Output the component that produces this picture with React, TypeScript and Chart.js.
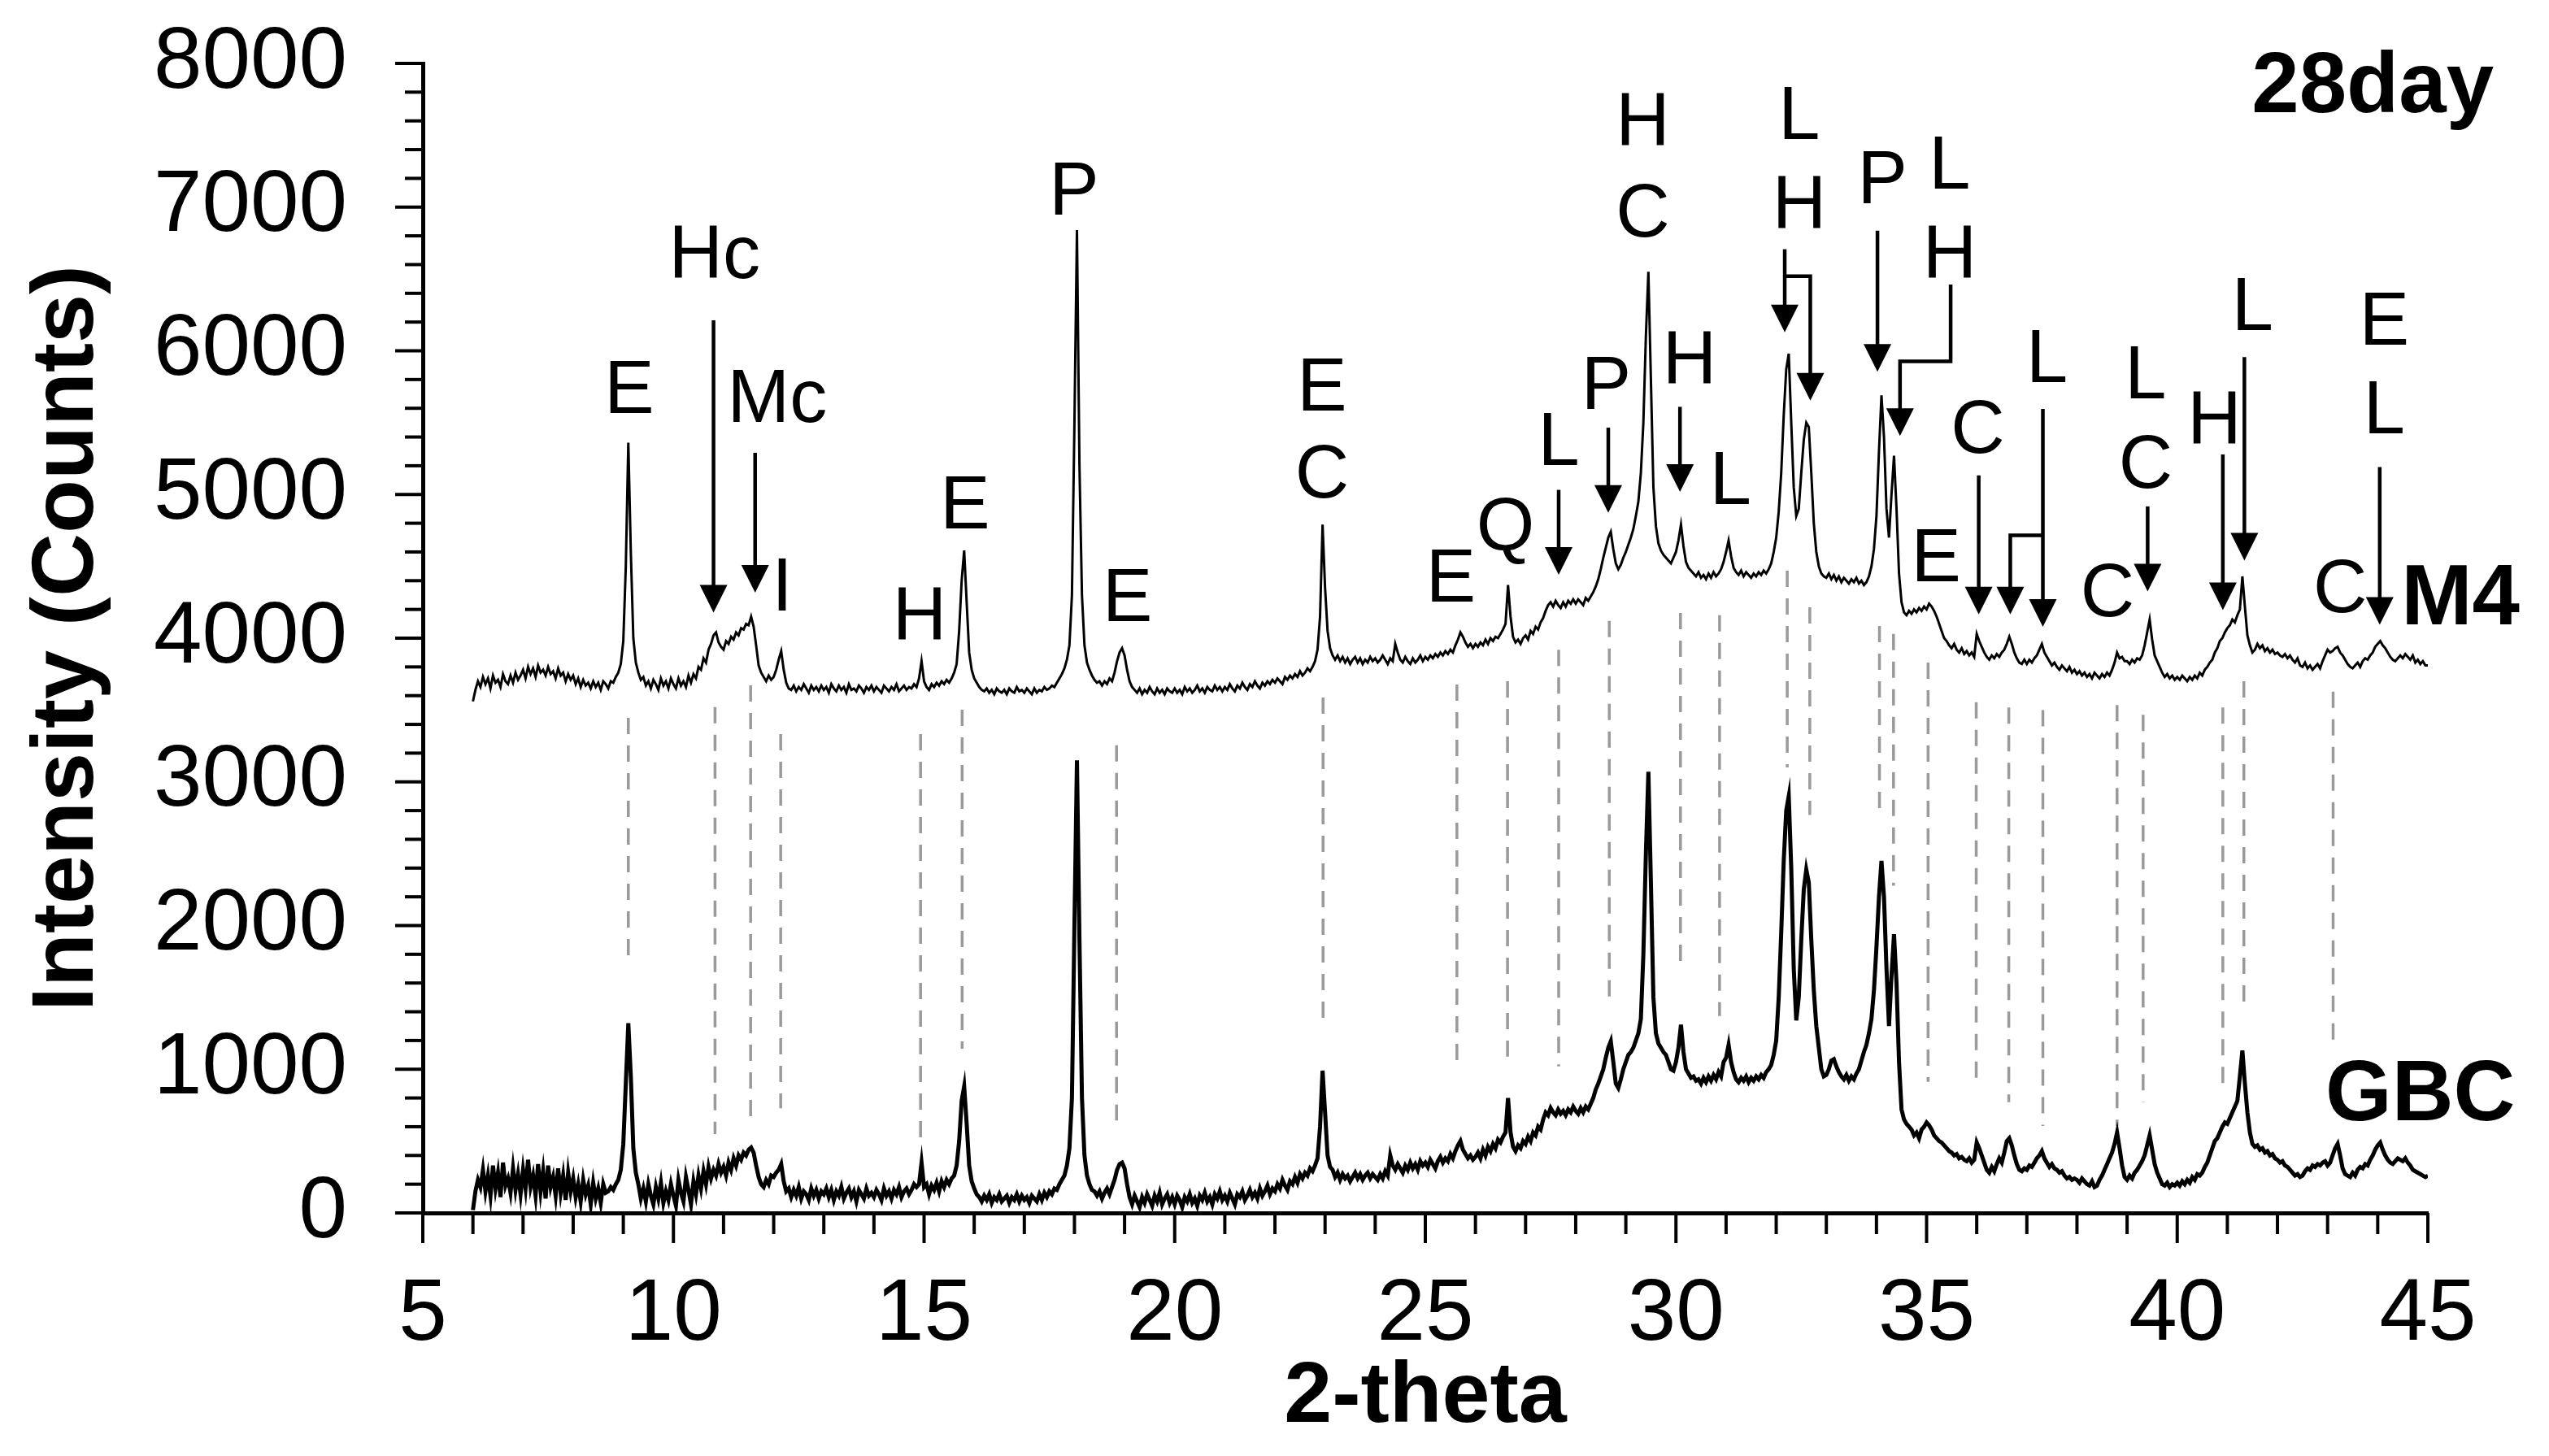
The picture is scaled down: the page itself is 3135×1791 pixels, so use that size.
import React, { useEffect, useRef } from "react";
import { Chart, registerables } from "chart.js";

Chart.register(...registerables);

const FONT = "'Liberation Sans', Arial, Helvetica, sans-serif";

// 2-theta sampling of both patterns
const twoThetaStart = 6;
const twoThetaStep = 0.05;

// M4 pattern (counts, offset trace), one row per degree: d.00 ... d.95
const m4Counts = [
  3560, 3640, 3700, 3660, 3730, 3680, 3720, 3650, 3740, 3690, 3710, 3660, 3750, 3700, 3680, 3740, 3690, 3760, 3710, 3740,
  3780, 3720, 3800, 3750, 3790, 3730, 3810, 3760, 3780, 3740, 3800, 3750, 3770, 3720, 3790, 3740, 3760, 3700, 3750, 3710,
  3740, 3680, 3720, 3660, 3710, 3670, 3690, 3650, 3700, 3660, 3690, 3640, 3700, 3680, 3650, 3700, 3690, 3730, 3760, 3820,
  3980, 4500, 5360, 4600, 4000, 3830, 3760, 3710, 3730, 3670, 3700, 3650, 3710, 3680, 3640, 3720, 3670, 3700, 3650, 3720,
  3680, 3650, 3720, 3670, 3700, 3660, 3740, 3690, 3750, 3720, 3800, 3780, 3860, 3830, 3920, 3960, 4020, 4040, 3970, 3940,
  3920, 3980, 3960, 4010, 3990, 4040, 4020, 4070, 4060, 4100, 4090, 4150, 4080, 3950, 3810, 3760, 3730, 3700, 3740, 3710,
  3730, 3780, 3850, 3910, 3780, 3690, 3650, 3640, 3670, 3630, 3660, 3640, 3680, 3650, 3620, 3670, 3640, 3660, 3630, 3670,
  3640, 3660, 3620, 3680, 3650, 3630, 3670, 3640, 3660, 3620, 3680, 3640, 3650, 3630, 3670, 3650, 3620, 3660, 3640, 3670,
  3630, 3660, 3640, 3620, 3670, 3650, 3630, 3660, 3640, 3680, 3630, 3650, 3670, 3640, 3660, 3650, 3680, 3660, 3720, 3840,
  3700, 3660, 3640, 3680, 3660, 3690, 3670, 3700, 3680, 3710, 3690, 3720, 3760, 3820, 4050, 4400, 4610, 4250, 3900, 3780,
  3720, 3690, 3660, 3640, 3630, 3650, 3620, 3640, 3610, 3650, 3630, 3620, 3640, 3610, 3650, 3630, 3620, 3660, 3630, 3640,
  3620, 3650, 3630, 3610, 3650, 3620, 3640, 3630, 3660, 3640, 3650, 3670, 3660, 3690, 3720, 3750, 3790, 3850, 3950, 4300,
  5500, 6840, 5200, 4300, 3950, 3830, 3780, 3740, 3710, 3690, 3700, 3670, 3700, 3680, 3720, 3700, 3760, 3840, 3900, 3930,
  3880, 3780, 3700, 3660, 3640, 3620, 3650, 3610, 3640, 3620, 3660, 3630, 3610, 3650, 3620, 3640, 3610, 3650, 3630, 3620,
  3650, 3620, 3640, 3610, 3660, 3630, 3650, 3620, 3640, 3670, 3630, 3650, 3620, 3660, 3640, 3630, 3670, 3640, 3660, 3630,
  3660, 3640, 3680, 3650, 3630, 3670, 3650, 3690, 3660, 3640, 3680, 3660, 3700, 3670, 3650, 3690, 3670, 3700, 3680, 3710,
  3690, 3720, 3700, 3680, 3730, 3710, 3740, 3720, 3750, 3730, 3770, 3740, 3760, 3790, 3770, 3800, 3840, 3920, 4150, 4790,
  4350, 4050, 3930, 3880, 3850, 3880, 3840, 3870, 3830, 3860, 3820, 3850, 3870, 3830, 3860, 3820, 3850, 3830, 3870, 3840,
  3860, 3830, 3850, 3880, 3850, 3820, 3860, 3840, 3960, 3900, 3850, 3830, 3870, 3840, 3820, 3860, 3830, 3850, 3880, 3840,
  3870, 3850, 3880, 3860, 3890, 3870, 3900, 3880, 3910, 3890, 3920, 3900, 3950, 3990, 4040, 4010, 3970, 3940, 3960, 3930,
  3960, 3940, 3970, 3950, 3990, 3960, 4000, 3980, 4010, 4000, 4030, 4060, 4100, 4370, 4150, 4010, 3970, 3990, 3960, 4000,
  4020, 3990, 4050, 4030, 4080, 4060, 4110, 4140, 4190, 4230, 4250, 4220, 4260, 4230, 4210, 4250, 4220, 4260, 4240, 4270,
  4240, 4270, 4250, 4230, 4280, 4260, 4290, 4320, 4360, 4410, 4480, 4560, 4630, 4700, 4740, 4620, 4520, 4480, 4510, 4560,
  4600, 4650, 4700, 4760, 4850, 4950, 5150, 5500, 6100, 6550, 5800, 5050, 4780, 4660, 4610, 4580, 4560, 4540, 4520, 4560,
  4600, 4680, 4790, 4640, 4530, 4490, 4470, 4450, 4430, 4460, 4420, 4440, 4410, 4450, 4420, 4460, 4430, 4450, 4480, 4530,
  4600, 4680, 4570, 4490, 4460, 4440, 4470, 4430, 4460, 4440, 4420, 4450, 4430, 4460, 4440, 4470, 4450, 4480, 4520, 4600,
  4700, 4880, 5150, 5550, 5870, 5980, 5500, 5050, 4850, 4900, 5150, 5380, 5500, 5470, 5150, 4800, 4600, 4500, 4450, 4430,
  4420, 4450, 4410, 4440, 4400, 4430, 4390, 4420, 4400, 4380, 4410, 4390, 4420, 4380, 4400, 4370, 4390, 4430, 4500, 4620,
  4850, 5300, 5690, 5400, 4900, 4700, 5000, 5270, 4900, 4450, 4250, 4180, 4160, 4190, 4170, 4200, 4180, 4210, 4190, 4220,
  4200, 4240, 4220, 4190, 4150, 4100, 4050, 4000, 3980, 3950, 3930, 3960, 3920, 3900, 3930, 3890, 3910, 3880, 3900, 3870,
  4030, 3980, 3940, 3900, 3870, 3850, 3880, 3860, 3890, 3870, 3900, 3920, 3960, 4010, 3960, 3900, 3860, 3830, 3820, 3850,
  3820, 3850, 3830, 3860, 3880, 3920, 3960, 3900, 3870, 3840, 3810, 3830, 3800, 3780, 3810, 3790, 3770, 3800, 3760, 3780,
  3750, 3770, 3740, 3760, 3730, 3750, 3720, 3760, 3740, 3720, 3750, 3730, 3760, 3740, 3780, 3830, 3900, 3860, 3870, 3840,
  3840, 3820, 3850, 3830, 3860, 3850, 3880, 3950, 4040, 4130, 3990, 3880, 3840, 3800, 3760, 3730, 3750, 3720, 3740, 3710,
  3730, 3710, 3740, 3720, 3700, 3730, 3710, 3740, 3720, 3760, 3740, 3780, 3800, 3830, 3850, 3900, 3930, 3980, 4000, 4040,
  4070, 4090, 4130, 4110, 4160, 4200, 4430, 4220, 4020, 3950, 3900, 3920, 3960, 3930, 3950, 3910, 3930, 3900, 3920, 3890,
  3900, 3880, 3870, 3890, 3860, 3880, 3850, 3830, 3860, 3810, 3800, 3830, 3790, 3810, 3780, 3800, 3820, 3790, 3840, 3880,
  3920, 3900, 3910, 3930, 3940, 3900, 3880, 3850, 3820, 3800, 3790, 3810, 3830, 3800, 3840, 3860, 3850, 3880, 3900, 3940,
  3960, 3980, 3950, 3930, 3900, 3870, 3850, 3840, 3860, 3880, 3860, 3890, 3870, 3850, 3880, 3830, 3850, 3820, 3840, 3810,
  3810,
];

// GBC pattern (counts), one row per degree: d.00 ... d.95
const gbcCounts = [
  20, 150, 230, 180, 300, 150, 260, 120, 330, 170, 280, 110, 350, 190, 240, 140, 310, 160, 270, 130,
  300, 170, 370, 180, 260, 120, 340, 150, 290, 100, 330, 180, 250, 120, 310, 140, 260, 90, 280, 150,
  240, 110, 200, 80, 230, 130, 190, 60, 210, 100, 170, 70, 200, 140, 150, 180, 160, 200, 230, 300,
  480, 900, 1320, 950, 450, 280, 200, 100, 170, 80, 200, 120, 60, 180, 100, 210, 70, 150, 90, 200,
  120, 50, 230, 140, 80, 250, 160, 60, 220, 130, 260, 170, 290, 200, 320, 240, 300, 260, 340, 280,
  320, 260, 350, 300, 380, 330, 400, 370, 420, 400, 440, 455, 420, 330, 250, 200, 180, 230, 200, 260,
  250, 280, 300, 340, 220, 150, 170, 110, 160, 120, 180, 100, 150, 130, 90, 170, 120, 160, 100, 150,
  130, 170, 110, 160, 90, 150, 120, 180, 100, 140, 170, 110, 150, 80, 160, 130, 100, 170, 120, 140,
  110, 160, 130, 90, 170, 120, 150, 100, 160, 130, 180, 110, 150, 170, 130, 160, 200, 180, 200, 350,
  180, 200, 130, 190, 160, 210, 150, 220, 180, 230, 200, 240, 260, 330, 500, 780, 880, 620, 330, 220,
  170, 130, 110, 80, 120, 90, 130, 70, 110, 90, 130, 80, 100, 120, 70, 110, 90, 130, 80, 120,
  90, 110, 70, 120, 100, 80, 130, 90, 140, 110, 150, 130, 170, 160, 200, 230, 260, 330, 450, 800,
  2000, 3150, 1900, 800, 400, 260, 200, 160, 150, 120, 150, 100, 140, 170, 130, 180, 230, 300, 340, 350,
  310, 200, 110, 60, 120, 80, 40, 110, 70, 130, 90, 50, 120, 80, 140, 60, 100, 130, 70, 110,
  60, 120, 90, 40, 110, 80, 130, 70, 100, 50, 120, 90, 140, 80, 110, 60, 130, 100, 150, 90,
  120, 80, 140, 100, 60, 130, 110, 150, 90, 120, 160, 110, 140, 100, 170, 120, 150, 190, 130, 170,
  150, 200, 170, 230, 190, 160, 220, 200, 250, 210, 270, 240, 280, 260, 310, 290, 330, 380, 600, 990,
  700, 400, 320, 300, 250, 280, 230, 270, 240, 260, 220, 250, 280, 240, 270, 230, 260, 280, 240, 270,
  250, 230, 270, 240, 290, 260, 400, 330, 300, 340, 310, 280, 330, 300, 350, 310, 340, 300, 360, 330,
  350, 320, 370, 340, 310, 360, 390, 350, 380, 360, 410, 380, 430, 470, 500, 440, 410, 380, 400, 370,
  390, 420, 380, 440, 400, 460, 430, 480, 450, 510, 490, 530, 560, 800, 560, 460, 430, 470, 450, 500,
  480, 530, 500, 560, 540, 600, 580, 650, 700, 680, 730, 700, 680, 720, 690, 710, 680, 720, 700, 740,
  710, 690, 730, 700, 740, 720, 760, 800, 860, 900, 950, 1000, 1080, 1150, 1195, 1050, 900, 870, 930, 1000,
  1050, 1100, 1120, 1150, 1200, 1250, 1350, 1800, 2500, 3070, 2300, 1500, 1250, 1180, 1150, 1120, 1100, 1050, 1000, 990,
  1050, 1150, 1310, 1120, 1000, 970, 940, 950, 920, 930, 900, 940, 910, 950, 920, 960, 930, 980, 950, 1050,
  1080, 1170, 1050, 980, 930, 910, 940, 920, 950, 910, 940, 920, 950, 930, 960, 940, 980, 1000, 1030, 1100,
  1200, 1500, 1950, 2450, 2800, 2900, 2400, 1700, 1340, 1500, 1900, 2250, 2390, 2300, 1900, 1550, 1300, 1150, 1000, 950,
  960, 1000, 1060, 1070, 1020, 980, 950, 930, 960, 920, 950, 930, 970, 1000, 1060, 1120, 1170, 1250, 1350, 1550,
  1850, 2200, 2450, 2200, 1700, 1300, 1650, 1940, 1600, 1050, 720, 650, 620, 600, 580, 540, 560, 520, 580, 600,
  630, 610, 580, 540, 520, 500, 490, 470, 450, 430, 420, 400, 410, 380, 390, 370, 360, 380, 350, 370,
  490, 450, 400, 350, 300, 280, 320, 290, 340, 380, 350, 420, 500, 520, 470, 400, 340, 300, 290, 310,
  300, 330, 320, 350, 380, 400, 430, 380, 350, 320, 340, 310, 300, 280, 290, 260, 240, 250, 230, 240,
  230, 210, 240, 220, 200, 190, 220, 180, 190, 230, 260, 300, 340, 380, 420, 480, 560, 450, 330, 250,
  230, 260, 240, 280, 300, 330, 360, 400, 470, 540, 440, 340, 280, 240, 200, 190, 210, 180, 200, 190,
  210, 190, 220, 200, 230, 210, 250, 230, 270, 260, 280, 320, 350, 400, 450, 500, 520, 560, 600, 630,
  620, 660, 700, 740, 780, 950, 1130, 900, 700, 560, 480, 460, 470, 440, 450, 420, 430, 400, 410, 380,
  370, 350, 360, 330, 320, 300, 280, 260, 270, 250, 260, 290, 310, 300, 330, 320, 340, 330, 350, 360,
  330, 350, 400, 450, 480, 400, 310, 270, 260, 250, 280, 260, 300, 320, 310, 340, 330, 370, 400, 440,
  470, 490, 440, 400, 370, 350, 340, 360, 380, 370, 360, 380, 350, 330, 300, 290, 280, 270, 260, 250,
  260,
];

// Phase letters: [text, 2-theta, counts at label centre]
const peakLabels: [string, number, number][] = [
  ["E", 9.12, 5756], ["Hc", 10.82, 6691], ["Mc", 12.07, 5693], ["I", 12.17, 4379],
  ["H", 14.91, 4178], ["E", 15.82, 4948], ["P", 17.99, 7134], ["E", 19.06, 4305],
  ["E", 22.94, 5773], ["C", 22.94, 5166], ["E", 25.51, 4441], ["Q", 26.6, 4801],
  ["L", 27.66, 5393], ["P", 28.61, 5783], ["H", 29.34, 7616], ["C", 29.34, 6981],
  ["H", 30.27, 5956], ["L", 31.09, 5119], ["L", 32.46, 7659], ["H", 32.46, 7038],
  ["P", 34.12, 7212], ["L", 35.46, 7313], ["H", 35.46, 6692], ["E", 35.19, 4585],
  ["C", 36.02, 5479], ["L", 37.4, 5971], ["C", 38.61, 4340], ["L", 39.37, 5856],
  ["C", 39.37, 5235], ["H", 40.74, 5537], ["L", 41.5, 6331], ["C", 43.25, 4368],
  ["E", 44.13, 6230], ["L", 44.13, 5610],
];

// Arrow polylines [2-theta, counts]; arrow head at the last vertex
const arrows: [number, number][][] = [
  [[10.8, 6212], [10.8, 4178]],
  [[11.63, 5290], [11.63, 4317]],
  [[27.66, 5032], [27.66, 4441]],
  [[28.65, 5465], [28.65, 4873]],
  [[30.08, 5610], [30.08, 5018]],
  [[32.17, 6707], [32.17, 6129]],
  [[32.17, 6519], [32.68, 6519], [32.68, 5653]],
  [[34.02, 6836], [34.02, 5855]],
  [[35.48, 6461], [35.48, 5927], [34.47, 5927], [34.47, 5408]],
  [[36.04, 5133], [36.04, 4166]],
  [[37.32, 5596], [37.32, 4079]],
  [[37.32, 4715], [36.67, 4715], [36.67, 4166]],
  [[39.41, 4917], [39.41, 4325]],
  [[40.91, 5278], [40.91, 4195]],
  [[41.34, 5956], [41.34, 4541]],
  [[44.04, 5191], [44.04, 4094]],
];

// Grey dashed guide lines: [2-theta, top counts, bottom counts]
const guideLines: [number, number, number][] = [
  [9.1, 3446, 1737], [10.83, 3521, 549], [11.54, 3672, 643], [12.14, 3333, 728],
  [14.93, 3333, 502], [15.76, 3502, 1143], [18.84, 3255, 643], [22.96, 3587, 1358],
  [25.63, 3678, 1008], [26.64, 3700, 1088], [27.66, 3920, 1020], [28.67, 4120, 1453],
  [30.09, 4175, 1722], [30.87, 4160, 1371], [32.22, 4470, 3100], [32.67, 4215, 2770],
  [34.06, 4085, 2770], [34.34, 4030, 2277], [35.03, 3830, 912], [35.99, 3555, 866],
  [36.64, 3518, 771], [37.32, 3500, 606], [38.8, 3535, 606], [39.32, 3467, 771],
  [40.91, 3518, 866], [41.33, 3700, 1428], [43.11, 3628, 1172],
];

// Bold series / panel names: [text, 2-theta centre, counts centre]
const seriesNames: [string, number, number][] = [
  ["M4", 45.65, 4311],
  ["GBC", 44.85, 860],
  ["28day", 43.9, 7873],
];

const xrdPlugin = {
  id: "xrdDecor",
  beforeDatasetsDraw(chart: any) {
    const { ctx, scales } = chart;
    const X = (v: number) => scales.x.getPixelForValue(v);
    const Y = (v: number) => scales.y.getPixelForValue(v);
    ctx.save();
    ctx.strokeStyle = "#9a9a9a";
    ctx.lineWidth = 3.5;
    ctx.setLineDash([20, 14]);
    for (const [t, top, bot] of guideLines) {
      ctx.beginPath();
      ctx.moveTo(X(t), Y(top));
      ctx.lineTo(X(t), Y(bot));
      ctx.stroke();
    }
    ctx.restore();
  },
  afterDraw(chart: any) {
    const { ctx, scales } = chart;
    const xs = scales.x;
    const ys = scales.y;
    const X = (v: number) => xs.getPixelForValue(v);
    const Y = (v: number) => ys.getPixelForValue(v);
    ctx.save();
    // axis tick marks (major + minor)
    ctx.strokeStyle = "#000";
    ctx.lineWidth = 4;
    ctx.setLineDash([]);
    const x0 = X(xs.min);
    const y0 = Y(ys.min);
    for (let v = ys.min; v <= ys.max; v += 200) {
      const len = v % 1000 === 0 ? 34 : 22;
      ctx.beginPath();
      ctx.moveTo(x0 - len, Y(v));
      ctx.lineTo(x0, Y(v));
      ctx.stroke();
    }
    for (let v = xs.min; v <= xs.max; v += 1) {
      const len = v % 5 === 0 ? 37 : 26;
      ctx.beginPath();
      ctx.moveTo(X(v), y0);
      ctx.lineTo(X(v), y0 + len);
      ctx.stroke();
    }
    // arrows
    ctx.lineWidth = 4.5;
    ctx.fillStyle = "#000";
    const head = 34;
    const half = 17;
    for (const pts of arrows) {
      const p = pts.map(([a, b]) => [X(a), Y(b)]);
      const n = p.length;
      const [tx, ty] = p[n - 1];
      ctx.beginPath();
      ctx.moveTo(p[0][0], p[0][1]);
      for (let i = 1; i < n - 1; i++) ctx.lineTo(p[i][0], p[i][1]);
      ctx.lineTo(tx, ty - head + 2);
      ctx.stroke();
      ctx.beginPath();
      ctx.moveTo(tx, ty);
      ctx.lineTo(tx - half, ty - head);
      ctx.lineTo(tx + half, ty - head);
      ctx.closePath();
      ctx.fill();
    }
    // phase letters
    ctx.font = `92px ${FONT}`;
    ctx.textAlign = "center";
    ctx.textBaseline = "alphabetic";
    for (const [t, a, b] of peakLabels) {
      ctx.fillText(t, X(a), Y(b) + 33);
    }
    // series names
    ctx.font = `bold 105px ${FONT}`;
    for (const [t, a, b] of seriesNames) {
      ctx.fillText(t, X(a), Y(b) + 38);
    }
    ctx.restore();
  },
};

export default function App() {
  const ref = useRef<HTMLCanvasElement>(null);
  useEffect(() => {
    document.body.style.margin = "0";
    const canvas = ref.current;
    if (!canvas) return;
    const toPoints = (arr: number[]) =>
      arr.map((v, i) => ({ x: +(twoThetaStart + i * twoThetaStep).toFixed(2), y: v }));
    const chart = new Chart(canvas, {
      type: "line",
      data: {
        datasets: [
          { label: "M4", data: toPoints(m4Counts), borderColor: "#000", borderWidth: 3, pointRadius: 0, tension: 0, fill: false },
          { label: "GBC", data: toPoints(gbcCounts), borderColor: "#000", borderWidth: 5, pointRadius: 0, tension: 0, fill: false },
        ],
      },
      options: {
        animation: false,
        responsive: false,
        devicePixelRatio: 1,
        layout: { padding: { top: 78, right: 149, bottom: 0, left: 0 } },
        plugins: { legend: { display: false }, tooltip: { enabled: false } },
        scales: {
          x: {
            type: "linear",
            min: 5,
            max: 45,
            afterFit: (s: any) => { s.height = 299; s.paddingLeft = 0; s.paddingRight = 0; },
            grid: { display: false, drawTicks: false },
            border: { display: true, color: "#000", width: 5 },
            ticks: { stepSize: 5, autoSkip: false, maxRotation: 0, padding: 62, color: "#000", font: { size: 107, family: FONT }, callback: (v: any) => String(v) },
            title: { display: true, text: "2-theta", color: "#000", font: { size: 106, weight: "bold", family: FONT, lineHeight: 1 }, padding: { top: 0, bottom: 18 } },
          },
          y: {
            type: "linear",
            min: 0,
            max: 8000,
            afterFit: (s: any) => { s.width = 520; s.paddingTop = 0; s.paddingBottom = 0; },
            grid: { display: false, drawTicks: false },
            border: { display: true, color: "#000", width: 5 },
            ticks: { stepSize: 1000, autoSkip: false, padding: 93, color: "#000", font: { size: 107, family: FONT }, callback: (v: any) => String(v) },
            title: { display: true, text: "Intensity (Counts)", color: "#000", font: { size: 108, weight: "bold", family: FONT, lineHeight: 1 }, padding: { top: 30, bottom: 0 } },
          },
        },
      } as any,
      plugins: [xrdPlugin],
    });
    return () => chart.destroy();
  }, []);
  return (
    <div style={{ position: "absolute", left: 0, top: 0, width: 3135, height: 1791, background: "#fff" }}>
      <canvas ref={ref} width={3135} height={1791} style={{ width: 3135, height: 1791, display: "block" }} />
    </div>
  );
}
